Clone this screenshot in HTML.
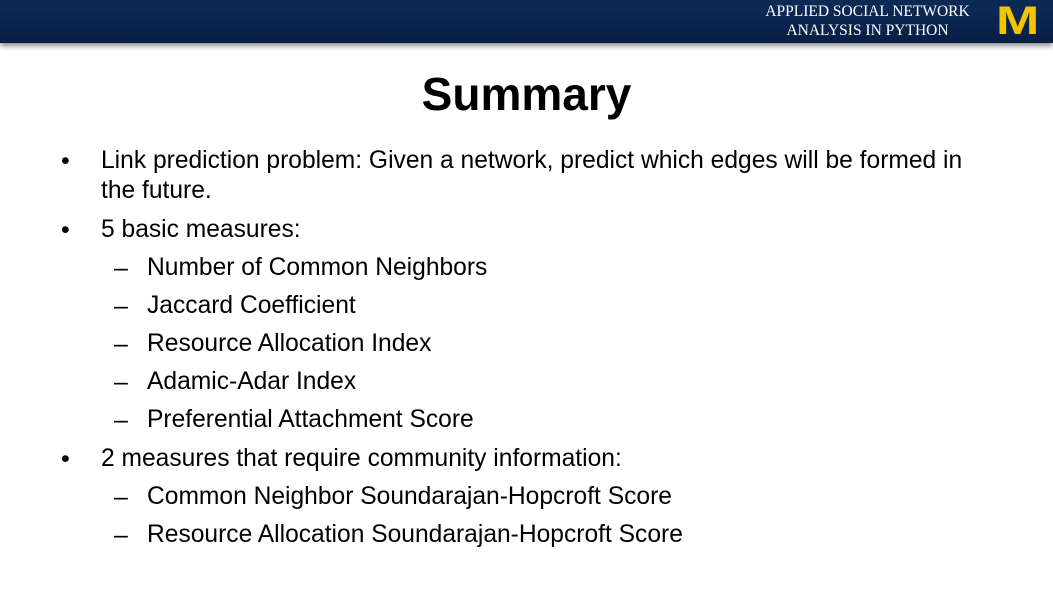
<!DOCTYPE html>
<html><head><meta charset="utf-8"><style>
html,body{margin:0;padding:0}
body{width:1053px;height:593px;position:relative;overflow:hidden;background:#fff;font-family:"Liberation Sans",sans-serif;color:#000}
.hdr{position:absolute;left:0;top:0;width:1053px;height:43px;background:linear-gradient(180deg,#0d2a55 0%,#0a2450 60%,#081d40 100%);box-shadow:0 3px 5px rgba(0,0,0,0.45)}
.ht{position:absolute;left:740px;top:2px;width:255px;text-align:center;color:#fff;font-family:"Liberation Serif",serif;font-size:15.5px;line-height:19px}
.m{position:absolute;left:996px;top:3px;font-family:"Liberation Sans",sans-serif;font-weight:bold;font-size:40px;line-height:36px;color:#f5c400;transform:scaleX(1.3);transform-origin:left top;letter-spacing:-1px}
.title{position:absolute;left:0;width:1053px;top:65px;text-align:center;font-weight:bold;font-size:46px;line-height:58px}
.ln{position:absolute;font-size:24.6px;line-height:30px;white-space:nowrap}
.b{position:absolute;left:61px;font-size:25px;line-height:30px}
.d{position:absolute;left:114px;font-size:25px;line-height:30px}
</style></head><body>
<div class="hdr"></div>
<div class="ht">APPLIED SOCIAL NETWORK<br>ANALYSIS IN PYTHON</div>
<div class="m">M</div>
<div class="title">Summary</div>

<div class="b" style="top:146px">•</div>
<div class="ln" style="left:101px;top:146px">Link prediction problem: Given a network, predict which edges will be formed in</div>
<div class="ln" style="left:101px;top:176px">the future.</div>
<div class="b" style="top:215px">•</div>
<div class="ln" style="left:101px;top:215px">5 basic measures:</div>
<div class="d" style="top:253px">–</div>
<div class="ln" style="left:147px;top:253px">Number of Common Neighbors</div>
<div class="d" style="top:291px">–</div>
<div class="ln" style="left:147px;top:291px">Jaccard Coefficient</div>
<div class="d" style="top:329px">–</div>
<div class="ln" style="left:147px;top:329px">Resource Allocation Index</div>
<div class="d" style="top:367px">–</div>
<div class="ln" style="left:147px;top:367px">Adamic-Adar Index</div>
<div class="d" style="top:405px">–</div>
<div class="ln" style="left:147px;top:405px">Preferential Attachment Score</div>
<div class="b" style="top:444px">•</div>
<div class="ln" style="left:101px;top:444px">2 measures that require community information:</div>
<div class="d" style="top:482px">–</div>
<div class="ln" style="left:147px;top:482px">Common Neighbor Soundarajan-Hopcroft Score</div>
<div class="d" style="top:520px">–</div>
<div class="ln" style="left:147px;top:520px">Resource Allocation Soundarajan-Hopcroft Score</div>
</body></html>
